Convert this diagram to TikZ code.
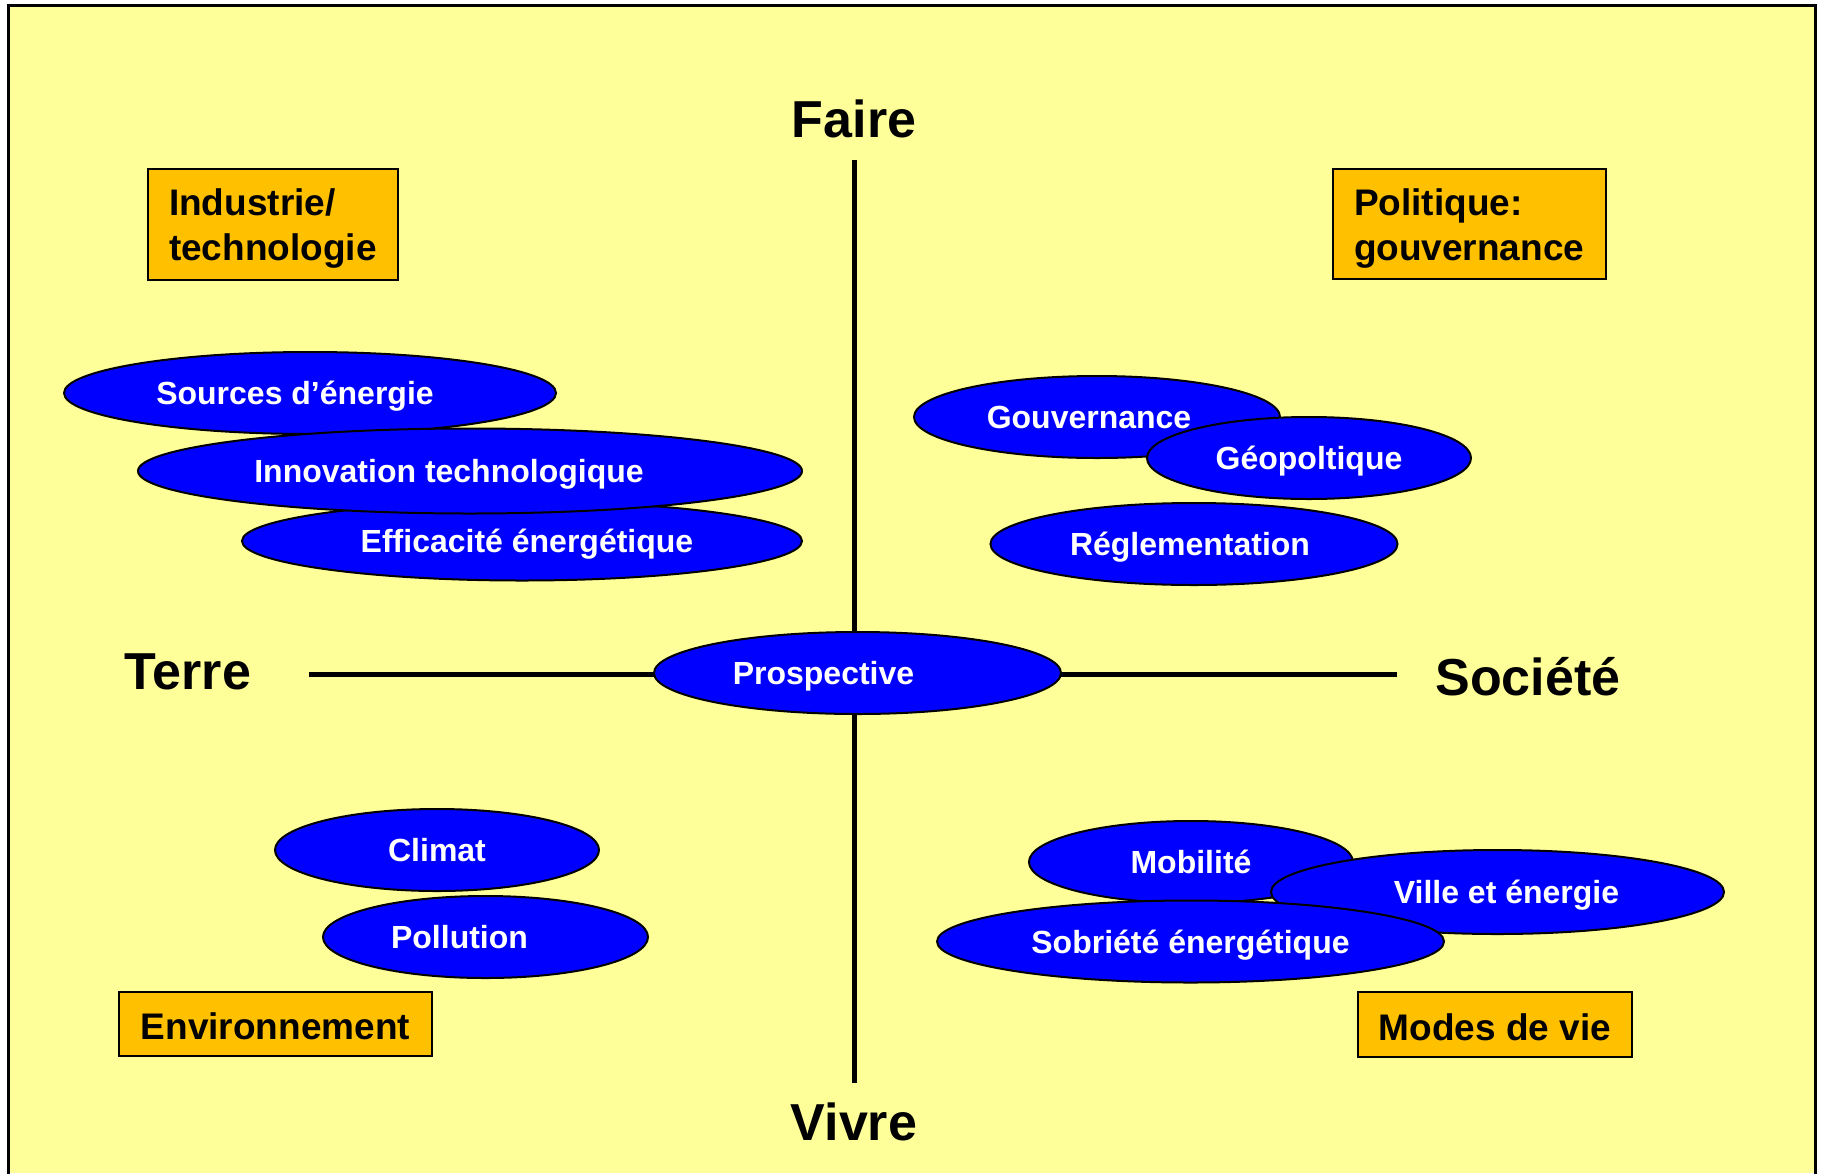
\documentclass[tikz,border=0pt]{standalone}
\usepackage{fontspec}
\setmainfont{Liberation Sans}
\usepackage{tikz}
\usetikzlibrary{positioning, shapes.geometric}
\definecolor{fond}{HTML}{FFFF99}
\definecolor{orangetheme}{HTML}{FFC000}
\definecolor{bleubulle}{HTML}{0000FF}

\begin{document}
\begin{tikzpicture}[x=1pt, y=-1pt,
		axe/.style={line width=5pt},
		pole/.style={font=\fontsize{52}{60}\selectfont\bfseries, inner sep=0pt, anchor=base},
		theme/.style={draw, line width=2pt, fill=orangetheme, font=\fontsize{37}{45}\selectfont\bfseries, align=left, inner xsep=21pt, inner ysep=0pt},
		bulle/.style={ellipse, draw, line width=2pt, fill=bleubulle, inner sep=0pt, minimum height=82pt},
		txt/.style={text=white, font=\fontsize{32}{38}\selectfont\bfseries, inner sep=0pt, text height=23pt, text depth=0pt}]
		\useasboundingbox (0,0) rectangle (1830,1173);
		\fill[fond] (8,5) rectangle (1815,1173);
		\draw[line width=3pt] (8,1180) -- (8,5) -- (1815,5) -- (1815,1180);

		% axes
		\node[pole] (faire) at (854,137) {Faire};
		\node[pole] (vivre) at (854,1140) {Vivre};
		\node[pole] (terre) at (188,689) {Terre};
		\node[pole] (societe) at (1528,695) {Société};
		\coordinate (axe-n) at (854,160);
		\coordinate (axe-s) at (854,1083);
		\coordinate (axe-o) at (309,674);
		\coordinate (axe-e) at (1397,674);
		\draw[axe] (axe-n) -- (axe-s);
		\draw[axe] (axe-o) -- (axe-e);

		% themes
		\node[theme, text width=208pt, minimum height=111pt] (industrie) at (273,224.5) {\rule{0pt}{35pt}Industrie/\\technologie};
		\node[theme, text width=231pt, minimum height=110pt] (politique) at (1469.5,224) {\rule{0pt}{35pt}Politique:\\gouvernance};
		\node[theme, minimum width=313pt, minimum height=64pt, text height=31pt, text depth=0pt] (environnement) at (275.5,1024) {Environnement};
		\node[theme, minimum width=272pt, minimum height=65pt, text height=31pt, text depth=0pt] (modes) at (1495,1024.5) {Modes de vie};

		% bulles
		\node[bulle, minimum width=492pt, label={[txt, xshift=-15pt]center:Sources d’énergie}] (sources) at (310,393) {};
		\node[bulle, minimum width=560pt, minimum height=79pt, label={[txt, xshift=5pt]center:Efficacité énergétique}] (efficacite) at (522,541) {};
		\node[bulle, minimum width=664pt, minimum height=85pt, label={[txt, xshift=-21pt]center:Innovation technologique}] (innovation) at (470,471) {};

		\node[bulle, minimum width=366pt, label={[txt, xshift=-8pt]center:Gouvernance}] (gouvernance) at (1097,417) {};
		\node[bulle, minimum width=324pt, label={[txt]center:Géopoltique}] (geopolitique) at (1309,458) {};
		\node[bulle, minimum width=407pt, label={[txt, xshift=-4pt]center:Réglementation}] (reglementation) at (1194,544) {};

		\node[bulle, minimum width=407pt, label={[txt, xshift=-34pt]center:Prospective}] (prospective) at (857.5,673) {};

		\node[bulle, minimum width=324pt, label={[txt]center:Climat}] (climat) at (437,850) {};
		\node[bulle, minimum width=325pt, label={[txt, xshift=-26pt]center:Pollution}] (pollution) at (485.5,937) {};

		\node[bulle, minimum width=324pt, label={[txt]center:Mobilité}] (mobilite) at (1191,862) {};
		\node[bulle, minimum width=453pt, minimum height=84pt, label={[txt, xshift=9pt]center:Ville et énergie}] (ville) at (1497.5,892) {};
		\node[bulle, minimum width=507pt, label={[txt]center:Sobriété énergétique}] (sobriete) at (1190.5,941.5) {};
	\end{tikzpicture}
\end{document}
